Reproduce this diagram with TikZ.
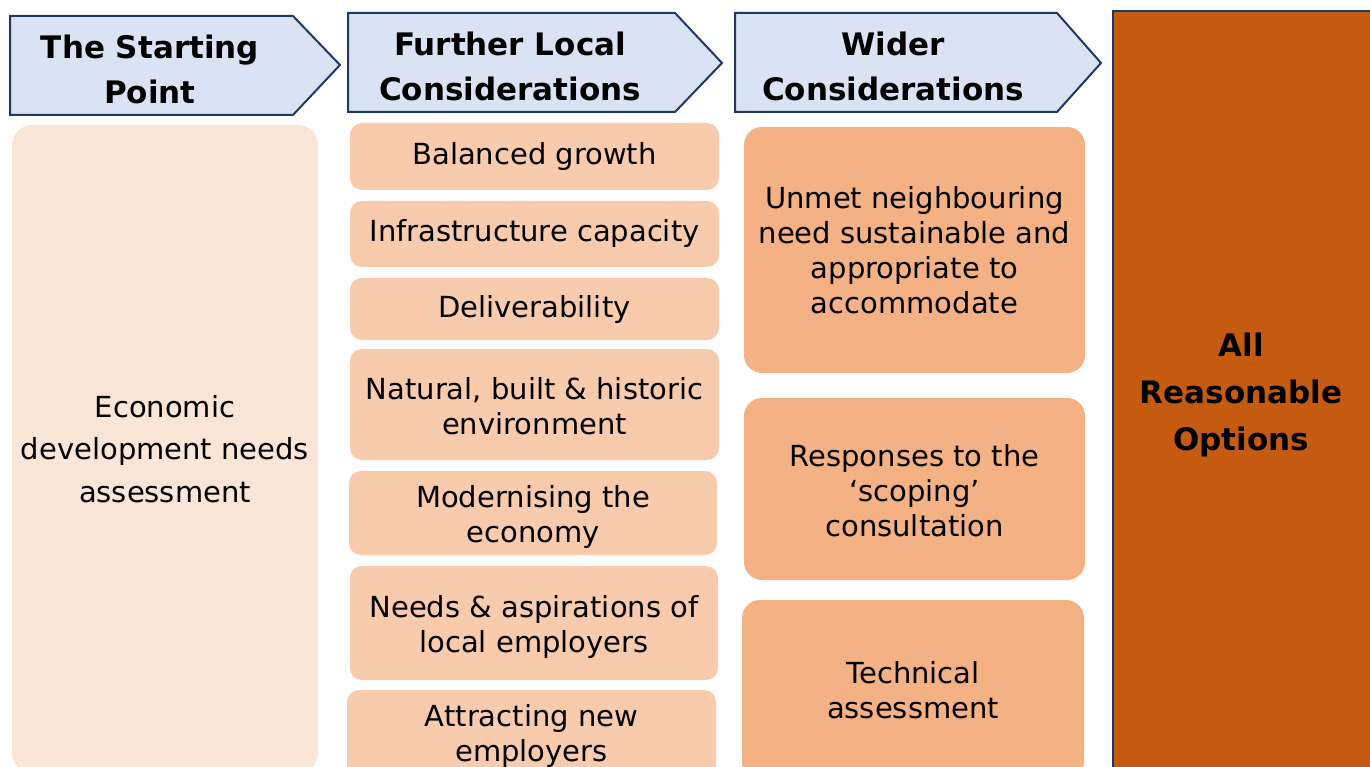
\documentclass[tikz,border=0pt]{standalone}
\usepackage{fontspec}
\setmainfont{DejaVu Sans}
\definecolor{navy}{HTML}{203864}
\definecolor{hdrblue}{HTML}{DAE3F3}
\definecolor{palepeach}{HTML}{FBE5D6}
\definecolor{peach}{HTML}{F8CBAD}
\definecolor{apricot}{HTML}{F4B183}
\definecolor{burnt}{HTML}{C55A11}
\tikzset{
  hdrshape/.style={draw=navy, line width=2pt, fill=hdrblue, line join=miter},
  hdrtext/.style={font=\fontsize{31}{45}\selectfont\bfseries, align=center, inner sep=0pt},
  bodybox/.style={font=\fontsize{29}{35}\selectfont, align=center, inner sep=0pt, text=black},
  startbox/.style={bodybox, font=\fontsize{29}{42.5}\selectfont, fill=palepeach, rounded corners=20pt},
  localbox/.style={bodybox, fill=peach, rounded corners=12pt},
  widebox/.style={bodybox, fill=apricot, rounded corners=18pt},
  optbox/.style={draw=navy, line width=2pt, fill=burnt, inner sep=0pt},
  opttext/.style={font=\fontsize{31}{47}\selectfont\bfseries, align=center, inner sep=0pt}
}
\begin{document}
\begin{tikzpicture}[x=1pt,y=-1pt]
\useasboundingbox (0,0) rectangle (1370,767);
% header arrows
\draw[hdrshape] (10,16) -- (293,16) -- (340,65) -- (293,115) -- (10,115) -- cycle;
\node[hdrtext] (h1) at (150,69) {The Starting\\Point};
\draw[hdrshape] (348,13) -- (675,13) -- (722,63) -- (675,112) -- (348,112) -- cycle;
\node[hdrtext] (h2) at (510,66) {Further Local\\Considerations};
\draw[hdrshape] (735,13) -- (1057,13) -- (1101,63) -- (1057,112) -- (735,112) -- cycle;
\node[hdrtext] (h3) at (893,66) {Wider\\Considerations};
% starting point
\node[startbox, minimum width=306pt, minimum height=648pt] (sp) at (165,449) {Economic\\development needs\\assessment};
% local considerations
\node[localbox, minimum width=369pt, minimum height=67pt] (l1) at (534.5,156.5) {Balanced growth};
\node[localbox, minimum width=369pt, minimum height=66pt] (l2) at (534.5,234) {Infrastructure capacity};
\node[localbox, minimum width=369pt, minimum height=62pt] (l3) at (534.5,309) {Deliverability};
\node[localbox, minimum width=369pt, minimum height=111pt] (l4) at (534.5,404.5) {};
\node[bodybox] (l4t) at (534.5,406.5) {Natural, built \& historic\\environment};
\node[localbox, minimum width=368pt, minimum height=84pt] (l5) at (533,513) {};
\node[bodybox] (l5t) at (533,516.5) {Modernising the\\economy};
\node[localbox, minimum width=368pt, minimum height=114pt] (l6) at (534,623) {};
\node[bodybox] (l6t) at (534,626.5) {Needs \& aspirations of\\local employers};
\node[localbox, minimum width=369pt, minimum height=92pt] (l7) at (531.5,736) {Attracting new\\employers};
% wider considerations
\node[widebox, minimum width=341pt, minimum height=246pt] (w1) at (914.5,250) {Unmet neighbouring\\need sustainable and\\appropriate to\\accommodate};
\node[widebox, minimum width=341pt, minimum height=182pt] (w2) at (914.5,489) {};
\node[bodybox] (w2t) at (914.5,491) {Responses to the\\‘scoping’\\consultation};
\node[widebox, minimum width=342pt, minimum height=180pt] (w3) at (913,690) {Technical\\assessment};
% all reasonable options
\node[optbox, minimum width=258pt, minimum height=770pt, anchor=north west] (opt) at (1112,10) {};
\node[opttext] (optt) at (1241,394.5) {All\\Reasonable\\Options};
\end{tikzpicture}
\end{document}
